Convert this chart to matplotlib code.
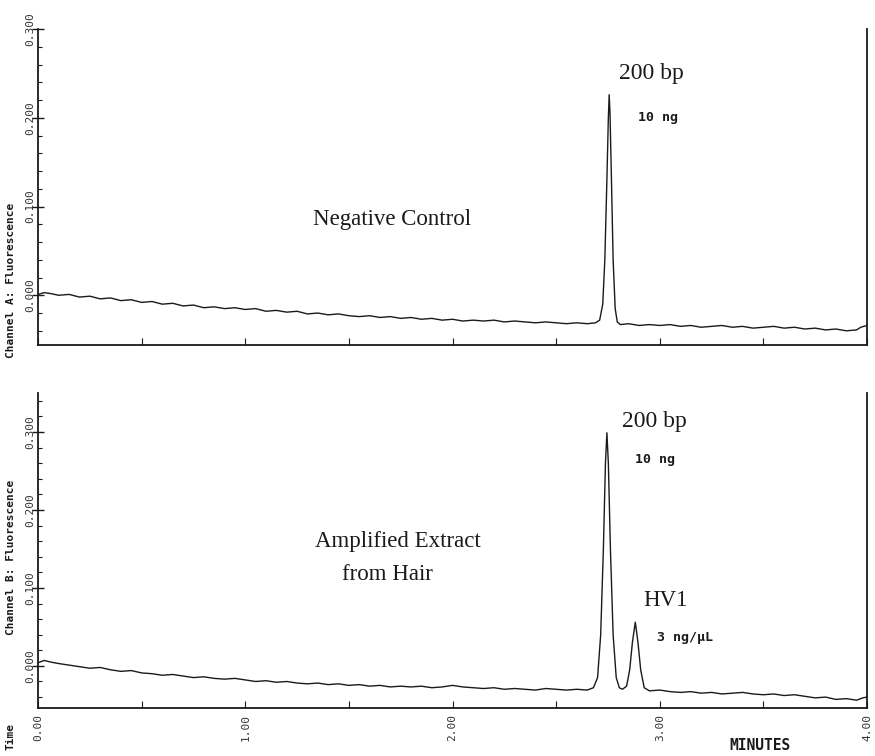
import matplotlib.pyplot as plt
from matplotlib.ticker import MultipleLocator

# channel A - negative control (minutes, fluorescence)
time_a = [0.00, 0.03, 0.06, 0.10, 0.15, 0.20, 0.25, 0.30, 0.35, 0.40, 0.45, 0.50,
          0.55, 0.60, 0.65, 0.70, 0.75, 0.80, 0.85, 0.90, 0.95, 1.00, 1.05, 1.10,
          1.15, 1.20, 1.25, 1.30, 1.35, 1.40, 1.45, 1.50, 1.55, 1.60, 1.65, 1.70,
          1.75, 1.80, 1.85, 1.90, 1.95, 2.00, 2.05, 2.10, 2.15, 2.20, 2.25, 2.30,
          2.35, 2.40, 2.45, 2.50, 2.55, 2.60, 2.65, 2.69, 2.71, 2.725, 2.735, 2.745,
          2.752, 2.756, 2.760, 2.767, 2.775, 2.785, 2.795, 2.81, 2.85, 2.90, 2.95, 3.00,
          3.05, 3.10, 3.15, 3.20, 3.25, 3.30, 3.35, 3.40, 3.45, 3.50, 3.55, 3.60,
          3.65, 3.70, 3.75, 3.80, 3.85, 3.90, 3.95, 3.97, 4.00]
signal_a = [0.001, 0.003, 0.002, 0.000, 0.001, -0.002, -0.001, -0.004, -0.003, -0.006, -0.005, -0.008,
            -0.007, -0.010, -0.009, -0.012, -0.011, -0.014, -0.013, -0.015, -0.014, -0.016, -0.015, -0.018,
            -0.017, -0.019, -0.018, -0.021, -0.020, -0.022, -0.021, -0.023, -0.024, -0.023, -0.025, -0.024,
            -0.026, -0.025, -0.027, -0.026, -0.028, -0.027, -0.029, -0.028, -0.029, -0.028, -0.030, -0.029,
            -0.030, -0.031, -0.030, -0.031, -0.032, -0.031, -0.032, -0.031, -0.028, -0.010, 0.040, 0.130,
            0.200, 0.226, 0.205, 0.130, 0.040, -0.015, -0.030, -0.033, -0.032, -0.034, -0.033, -0.034,
            -0.033, -0.035, -0.034, -0.036, -0.035, -0.034, -0.036, -0.035, -0.037, -0.036, -0.035, -0.037,
            -0.036, -0.038, -0.037, -0.039, -0.038, -0.040, -0.039, -0.036, -0.034]

# channel B - amplified extract from hair
time_b = [0.00, 0.03, 0.06, 0.10, 0.15, 0.20, 0.25, 0.30, 0.35, 0.40, 0.45, 0.50,
          0.55, 0.60, 0.65, 0.70, 0.75, 0.80, 0.85, 0.90, 0.95, 1.00, 1.05, 1.10,
          1.15, 1.20, 1.25, 1.30, 1.35, 1.40, 1.45, 1.50, 1.55, 1.60, 1.65, 1.70,
          1.75, 1.80, 1.85, 1.90, 1.95, 2.00, 2.05, 2.10, 2.15, 2.20, 2.25, 2.30,
          2.35, 2.40, 2.45, 2.50, 2.55, 2.60, 2.65, 2.68, 2.70, 2.715, 2.728, 2.738,
          2.745, 2.752, 2.762, 2.775, 2.79, 2.805, 2.82, 2.84, 2.855, 2.868, 2.882, 2.895,
          2.908, 2.925, 2.95, 3.00, 3.05, 3.10, 3.15, 3.20, 3.25, 3.30, 3.35, 3.40,
          3.45, 3.50, 3.55, 3.60, 3.65, 3.70, 3.75, 3.80, 3.85, 3.90, 3.95, 3.98, 4.00]
signal_b = [0.004, 0.007, 0.005, 0.003, 0.001, -0.001, -0.003, -0.002, -0.005, -0.007, -0.006, -0.009,
            -0.010, -0.012, -0.011, -0.013, -0.015, -0.014, -0.016, -0.017, -0.016, -0.018, -0.020, -0.019,
            -0.021, -0.020, -0.022, -0.023, -0.022, -0.024, -0.023, -0.025, -0.024, -0.026, -0.025, -0.027,
            -0.026, -0.027, -0.026, -0.028, -0.027, -0.025, -0.027, -0.028, -0.029, -0.028, -0.030, -0.029,
            -0.030, -0.031, -0.029, -0.030, -0.031, -0.030, -0.031, -0.028, -0.015, 0.040, 0.150, 0.260,
            0.299, 0.260, 0.150, 0.040, -0.015, -0.028, -0.030, -0.026, -0.005, 0.030, 0.056, 0.030,
            -0.005, -0.028, -0.032, -0.031, -0.033, -0.034, -0.033, -0.035, -0.034, -0.036, -0.035, -0.034,
            -0.036, -0.037, -0.036, -0.038, -0.037, -0.039, -0.041, -0.040, -0.043, -0.042, -0.044, -0.041, -0.040]

x_ticks = [0, 1, 2, 3, 4]
x_labels = ["0.00", "1.00", "2.00", "3.00", "4.00"]
y_ticks = [0.0, 0.1, 0.2, 0.3]
y_labels = ["0.000", "0.100", "0.200", "0.300"]

W, H = 875, 756
fig = plt.figure(figsize=(W / 100, H / 100), dpi=100)

mono = "DejaVu Sans Mono"
serif = "Liberation Serif"
ink = "#1a1a1a"


def px(x, y):
    return x / W, 1 - y / H


def setup(ax, ylim, show_x):
    ax.set_xlim(0, 4.0)
    ax.set_ylim(*ylim)
    ax.spines["top"].set_visible(False)
    for s in ["left", "bottom", "right"]:
        ax.spines[s].set_linewidth(1.3)
        ax.spines[s].set_color(ink)
    ax.set_xticks(x_ticks)
    ax.xaxis.set_minor_locator(MultipleLocator(0.5))
    ax.set_yticks(y_ticks)
    ax.set_yticklabels(y_labels, rotation=90, va="center", family=mono, fontsize=8, color="#333333")
    ax.yaxis.set_minor_locator(MultipleLocator(0.02))
    ax.tick_params(axis="y", which="major", direction="inout", length=8, width=1, pad=-2, colors=ink,
                   labelcolor="#333333")
    ax.tick_params(axis="y", which="minor", direction="in", length=3, width=0.8, colors=ink)
    ax.tick_params(axis="x", which="both", direction="in", length=5, width=0.8, colors=ink)
    if show_x:
        ax.set_xticklabels(x_labels, rotation=90, family=mono, fontsize=8, color="#333333")
        ax.tick_params(axis="x", which="major", pad=4)
    else:
        ax.set_xticklabels([])


l, r = 38, 867
ax1 = fig.add_axes([l / W, 1 - 345 / H, (r - l) / W, (345 - 29) / H])
ax1.plot(time_a, signal_a, color=ink, lw=1.0)
setup(ax1, (-0.056, 0.300), False)

ax2 = fig.add_axes([l / W, 1 - 708 / H, (r - l) / W, (708 - 393) / H])
ax2.plot(time_b, signal_b, color=ink, lw=1.0)
setup(ax2, (-0.054, 0.350), True)

# axis captions
fig.text(*px(11, 280), "Channel A: Fluorescence", rotation=90, ha="center", va="center",
         family=mono, fontweight="bold", fontsize=8, color=ink)
fig.text(*px(11, 557), "Channel B: Fluorescence", rotation=90, ha="center", va="center",
         family=mono, fontweight="bold", fontsize=8, color=ink)
fig.text(*px(11, 736), "Time", rotation=90, ha="center", va="center",
         family=mono, fontweight="bold", fontsize=8, color=ink)
fig.text(*px(760, 745), "MINUTES", ha="center", va="center",
         family=mono, fontweight="bold", fontsize=10.5, color=ink)

# peak annotations
fig.text(*px(619, 73), "200 bp", ha="left", va="center", family=serif, fontsize=17, color=ink)
fig.text(*px(638, 117), "10 ng", ha="left", va="center", family=mono, fontweight="bold",
         fontsize=9.5, color=ink)
fig.text(*px(392, 220), "Negative Control", ha="center", va="center", family=serif, fontsize=16.5, color=ink)

fig.text(*px(622, 421), "200 bp", ha="left", va="center", family=serif, fontsize=17, color=ink)
fig.text(*px(635, 460), "10 ng", ha="left", va="center", family=mono, fontweight="bold",
         fontsize=9.5, color=ink)
fig.text(*px(643, 600), "HV1", ha="left", va="center", family=serif, fontsize=16.5, color=ink)
fig.text(*px(657, 638), "3 ng/\u00b5L", ha="left", va="center", family=mono, fontweight="bold",
         fontsize=9.5, color=ink)
fig.text(*px(398, 541), "Amplified Extract", ha="center", va="center", family=serif, fontsize=16.5, color=ink)
fig.text(*px(387, 574), "from Hair", ha="center", va="center", family=serif, fontsize=16.5, color=ink)

fig.savefig("out.png", dpi=100)
